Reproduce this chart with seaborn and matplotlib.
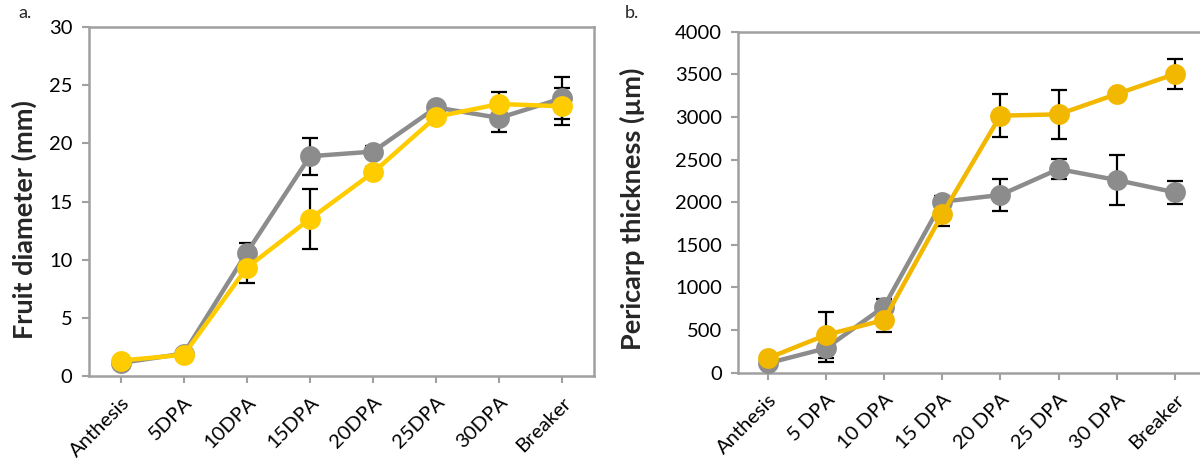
import pandas as pd
import numpy as np
import matplotlib.pyplot as plt
import seaborn as sns

### values
stages_a = ['Anthesis', '5DPA', '10DPA', '15DPA', '20DPA', '25DPA', '30DPA', 'Breaker']
stages_b = ['Anthesis', '5 DPA', '10 DPA', '15 DPA', '20 DPA', '25 DPA', '30 DPA', 'Breaker']

# fruit diameter (mm)
diam_gray = [1.1, 1.9, 10.6, 18.9, 19.3, 23.1, 22.2, 23.9]
diam_gray_err = [0.1, 0.1, 0.8, 1.6, 0.5, 0.3, 1.2, 1.8]
diam_yellow = [1.3, 1.8, 9.3, 13.5, 17.5, 22.3, 23.4, 23.2]
diam_yellow_err = [0.1, 0.1, 1.3, 2.6, 0.5, 0.3, 1.0, 1.6]

# pericarp thickness (um)
peri_gray = [110, 286, 774, 2006, 2085, 2389, 2260, 2116]
peri_gray_err = [20, 157, 90, 70, 190, 120, 290, 135]
peri_yellow = [169, 442, 618, 1858, 3015, 3031, 3269, 3504]
peri_yellow_err = [20, 274, 144, 137, 251, 290, 40, 175]

gray = '#8C8C8C'
yellow_a = '#FFCC00'
yellow_b = '#F2B800'

sns.set_style('white')
plt.rcParams['font.family'] = ['Lato', 'DejaVu Sans']

fig = plt.figure(figsize=(12, 4.62), dpi=100)
ax1 = fig.add_axes([0.0742, 0.1868, 0.4208, 0.754])
ax2 = fig.add_axes([0.6154, 0.1933, 0.388, 0.738])


def draw(ax, stages, g, ge, y, ye, ycol, ylabel, ymax, ystep, lab_xy):
    df = pd.DataFrame({'stage': stages * 2,
                       'value': g + y,
                       'line': ['gray'] * len(stages) + ['yellow'] * len(stages)})
    x = np.arange(len(stages))
    # error bars sit behind the markers
    ax.errorbar(x, g, yerr=ge, fmt='none', ecolor='black', elinewidth=1.6,
                capsize=6, capthick=1.6, zorder=1)
    ax.errorbar(x, y, yerr=ye, fmt='none', ecolor='black', elinewidth=1.6,
                capsize=6, capthick=1.6, zorder=1)
    sns.lineplot(data=df, x='stage', y='value', hue='line', sort=False,
                 palette={'gray': gray, 'yellow': ycol}, marker='o',
                 markersize=15, markeredgewidth=0, linewidth=3.2,
                 legend=False, ax=ax, zorder=3)
    ax.set_xlim(-0.5, len(stages) - 0.5)
    ax.set_ylim(0, ymax)
    ax.set_yticks(np.arange(0, ymax + 1, ystep))
    ax.set_xticks(x)
    ax.set_xticklabels(stages, rotation=45, ha='right', rotation_mode='anchor')
    ax.set_xlabel('')
    ax.set_ylabel(ylabel, fontsize=19.5, fontweight='bold')
    ax.yaxis.set_label_coords(*lab_xy)
    ax.tick_params(axis='both', labelsize=14.5, colors='#A0A0A0',
                   labelcolor='black', direction='out', length=5, width=1.5,
                   bottom=True, left=True)
    ax.tick_params(axis='y', pad=7)
    ax.tick_params(axis='x', pad=8)
    for s in ax.spines.values():
        s.set_color('#A0A0A0')
        s.set_linewidth(1.8)


draw(ax1, stages_a, diam_gray, diam_gray_err, diam_yellow, diam_yellow_err,
     yellow_a, 'Fruit diameter (mm)', 30, 5, (-0.104, 0.447))
draw(ax2, stages_b, peri_gray, peri_gray_err, peri_yellow, peri_yellow_err,
     yellow_b, 'Pericarp thickness (\u00b5m)', 4000, 500, (-0.2, 0.48))

fig.text(25 / 1200, 1 - 13 / 462, 'a.', fontsize=13, va='center', ha='center')
fig.text(632 / 1200, 1 - 13 / 462, 'b.', fontsize=13, va='center', ha='center')

plt.savefig('out.png', dpi=100)
